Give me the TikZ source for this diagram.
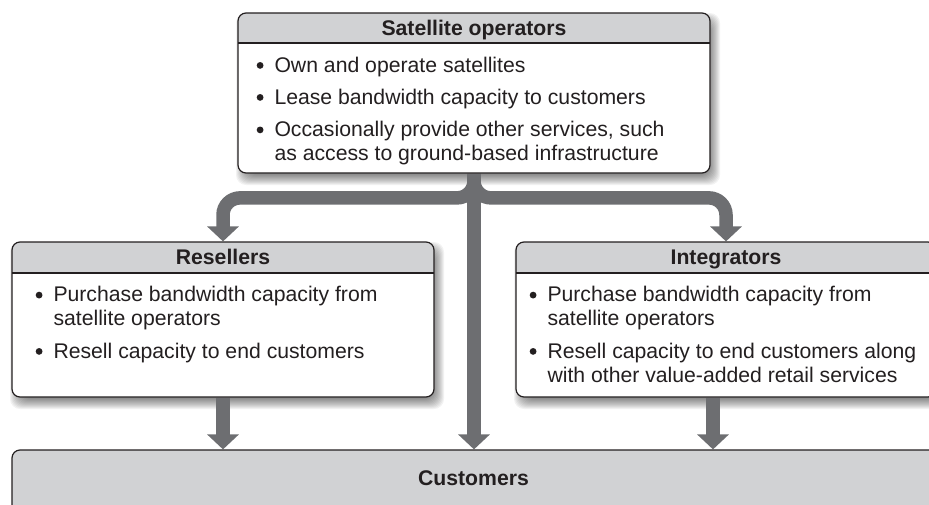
\documentclass[tikz,border=0pt]{standalone}
\usepackage{fontspec}
\setmainfont{Liberation Sans}
\usetikzlibrary{arrows.meta}
\definecolor{hdr}{HTML}{D1D2D4}
\definecolor{arrowc}{HTML}{6D6E71}
\definecolor{ink}{HTML}{231F20}
\pgfdeclarelayer{bg}
\pgfsetlayers{bg,main}
\newcommand\softshadow[4]{%
  \foreach \i in {0,...,11}{%
    \fill[black,opacity=0.05,rounded corners=10pt] ({#1-2+\i},{#2+\i}) rectangle ({#3+10-\i},{#4+12-\i});}}
\newcommand\bdot{\tikz[baseline=0pt]\fill[ink] (3.4pt,6.6pt) circle[radius=3.4pt];}
\newcommand\bitem[1]{\begin{tabular}[t]{@{}l@{\hspace{11pt}}l@{}}\bdot & #1\end{tabular}}
\tikzset{
  boxframe/.style={rectangle, draw=ink, line width=1.2pt, rounded corners=8pt, fill=white, inner sep=0pt},
  hdrband/.style={path picture={
    \fill[hdr, sharp corners] (path picture bounding box.north west) rectangle ([yshift=-#1]path picture bounding box.north east);
    \draw[ink, line width=1.2pt, sharp corners] ([yshift=-#1]path picture bounding box.north west) -- ([yshift=-#1]path picture bounding box.north east);}},
  arr/.style={draw=arrowc, line width=13.5pt, -{Triangle[width=31pt,length=15pt]}},
  txt/.style={inner sep=0pt, text=ink, font=\fontsize{21.2}{24}\selectfont, anchor=base west},
  hd/.style={inner sep=0pt, text=ink, font=\fontsize{21.2}{24}\selectfont\bfseries, anchor=base},
}
\begin{document}
\begin{tikzpicture}[x=1pt,y=-1pt]
\useasboundingbox (0,0) rectangle (929,504);
\clip (0,0) rectangle (929,504);
% boxes
\node[boxframe, hdrband=30pt, minimum width=472pt, minimum height=160pt] (top) at (474,93) {};
\node[boxframe, hdrband=31pt, minimum width=422pt, minimum height=155pt] (res) at (223,319.5) {};
\node[boxframe, hdrband=31pt, minimum width=420pt, minimum height=155pt] (int) at (726,319.5) {};
\node[boxframe, fill=hdr, minimum width=960pt, minimum height=100pt] (cust) at (492,500) {};
% texts
\node[hd] (topH) at (474,35) {Satellite operators};
\node[txt] (t1) at (256.5,72) {\bitem{Own and operate satellites}};
\node[txt] (t2) at (256.5,104) {\bitem{Lease bandwidth capacity to customers}};
\node[txt] (t3) at (256.5,136.5) {\bitem{Occasionally provide other services, such\\ & as access to ground-based infrastructure}};
\node[hd] (resH) at (223,264) {Resellers};
\node[txt] (r1) at (35.5,301.7) {\bitem{Purchase bandwidth capacity from\\ & satellite operators}};
\node[txt] (r2) at (35.5,358) {\bitem{Resell capacity to end customers}};
\node[hd] (intH) at (726,264) {Integrators};
\node[txt] (i1) at (529.5,301.7) {\bitem{Purchase bandwidth capacity from\\ & satellite operators}};
\node[txt] (i2) at (529.5,358) {\bitem{Resell capacity to end customers along\\ & with other value-added retail services}};
\node[hd] (custH) at (473.5,485) {Customers};
% shadows and connectors
\begin{pgfonlayer}{bg}
  \softshadow{238}{13}{710}{173}
  \softshadow{12}{242}{434}{397}
  \softshadow{516}{242}{936}{397}
  \draw[arr] (top.south) -- (top.south |- cust.north);
  \draw[arr, rounded corners=17pt] (top.south) |- ([yshift=43.5pt]res.north) -- (res.north);
  \draw[arr, rounded corners=17pt] (top.south) |- ([yshift=43.5pt]int.north) -- (int.north);
  \draw[arr] (res.south) -- (res.south |- cust.north);
  \draw[arr] ([xshift=-13pt]int.south) -- ([xshift=-13pt]int.south |- cust.north);
\end{pgfonlayer}
\end{tikzpicture}
\end{document}
